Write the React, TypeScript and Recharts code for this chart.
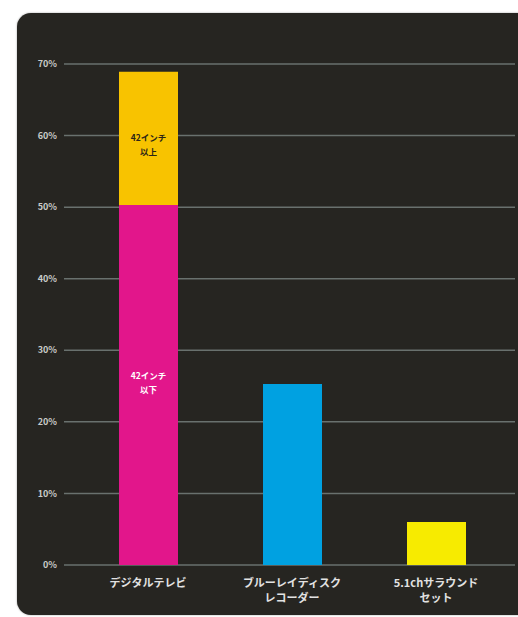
import React from "react";
import { BarChart, Bar, XAxis, YAxis, CartesianGrid, Cell, LabelList } from "recharts";

const categories = ["デジタルテレビ", "ブルーレイディスク\nレコーダー", "5.1chサラウンド\nセット"];
const lowerValues = [50.3, 25.3, 6.0];
const upperValues = [18.6, 0, 0];
const lowerColors = ["#e2168b", "#00a1e1", "#f7eb00"];
const upperColor = "#f8c300";
const lowerLabels = ["42インチ\n以下", "", ""];
const upperLabels = ["42インチ\n以上", "", ""];
const yTicks = [0, 10, 20, 30, 40, 50, 60, 70];

const data = categories.map((c, i) => ({
  name: c,
  lower: lowerValues[i],
  upper: upperValues[i],
  lowerLabel: lowerLabels[i],
  upperLabel: upperLabels[i],
}));

const FONT = "'Noto Sans CJK JP', 'Noto Sans', sans-serif";

const XTick = (props: any) => {
  const { x, y, payload } = props;
  const lines = String(payload.value).split("\n");
  return (
    <text x={x} y={y} textAnchor="middle" fill="#e2e2e2" fontSize={11} fontWeight={700} fontFamily={FONT}>
      {lines.map((l, i) => (
        <tspan key={i} x={x} dy={i === 0 ? 14 : 15}>
          {l}
        </tspan>
      ))}
    </text>
  );
};

const makeSegLabel = (color: string, offset: number) => (props: any) => {
  const { x, y, width, height, value } = props;
  if (!value) return null;
  const lines = String(value).split("\n");
  const cx = x + width / 2;
  const cy = y + height / 2 + offset;
  return (
    <text x={cx} y={cy} textAnchor="middle" fill={color} fontSize={8.5} fontWeight={700} fontFamily={FONT}>
      {lines.map((l, i) => (
        <tspan key={i} x={cx} dy={i === 0 ? -4 : 14}>
          {l}
        </tspan>
      ))}
    </text>
  );
};

export default function App() {
  return (
    <div style={{ position: "fixed", left: 0, top: 0, width: 518, height: 617, overflow: "hidden", background: "#ffffff" }}>
      <div
        style={{
          position: "absolute",
          left: 17,
          top: 13,
          width: 530,
          height: 602,
          background: "#262521",
          borderRadius: 14,
          boxShadow: "0 0 2px rgba(0,0,0,0.4)",
        }}
      />
      <div style={{ position: "absolute", left: 8, top: 8 }}>
        <BarChart
          width={510}
          height={609}
          data={data}
          margin={{ top: 56, right: 3, bottom: 0, left: 0 }}
          barSize={59}
        >
          <CartesianGrid vertical={false} stroke="#69716e" strokeWidth={1.5} />
          <XAxis
            dataKey="name"
            axisLine={false}
            tickLine={false}
            interval={0}
            height={52}
            padding={{ left: 12, right: 7 }}
            tick={<XTick />}
          />
          <YAxis
            domain={[0, 70]}
            ticks={yTicks}
            width={56}
            axisLine={false}
            tickLine={false}
            tickMargin={1}
            tickFormatter={(v: number) => `${v}%`}
            tick={{ fill: "#c9cbc8", fontSize: 9, fontFamily: FONT, fontWeight: 700 }}
          />
          <Bar dataKey="lower" stackId="a" isAnimationActive={false}>
            {data.map((_, i) => (
              <Cell key={i} fill={lowerColors[i]} />
            ))}
            <LabelList dataKey="lowerLabel" content={makeSegLabel("#ffffff", -2)} />
          </Bar>
          <Bar dataKey="upper" stackId="a" fill={upperColor} isAnimationActive={false}>
            <LabelList dataKey="upperLabel" content={makeSegLabel("#2a2418", 7)} />
          </Bar>
        </BarChart>
      </div>
    </div>
  );
}
